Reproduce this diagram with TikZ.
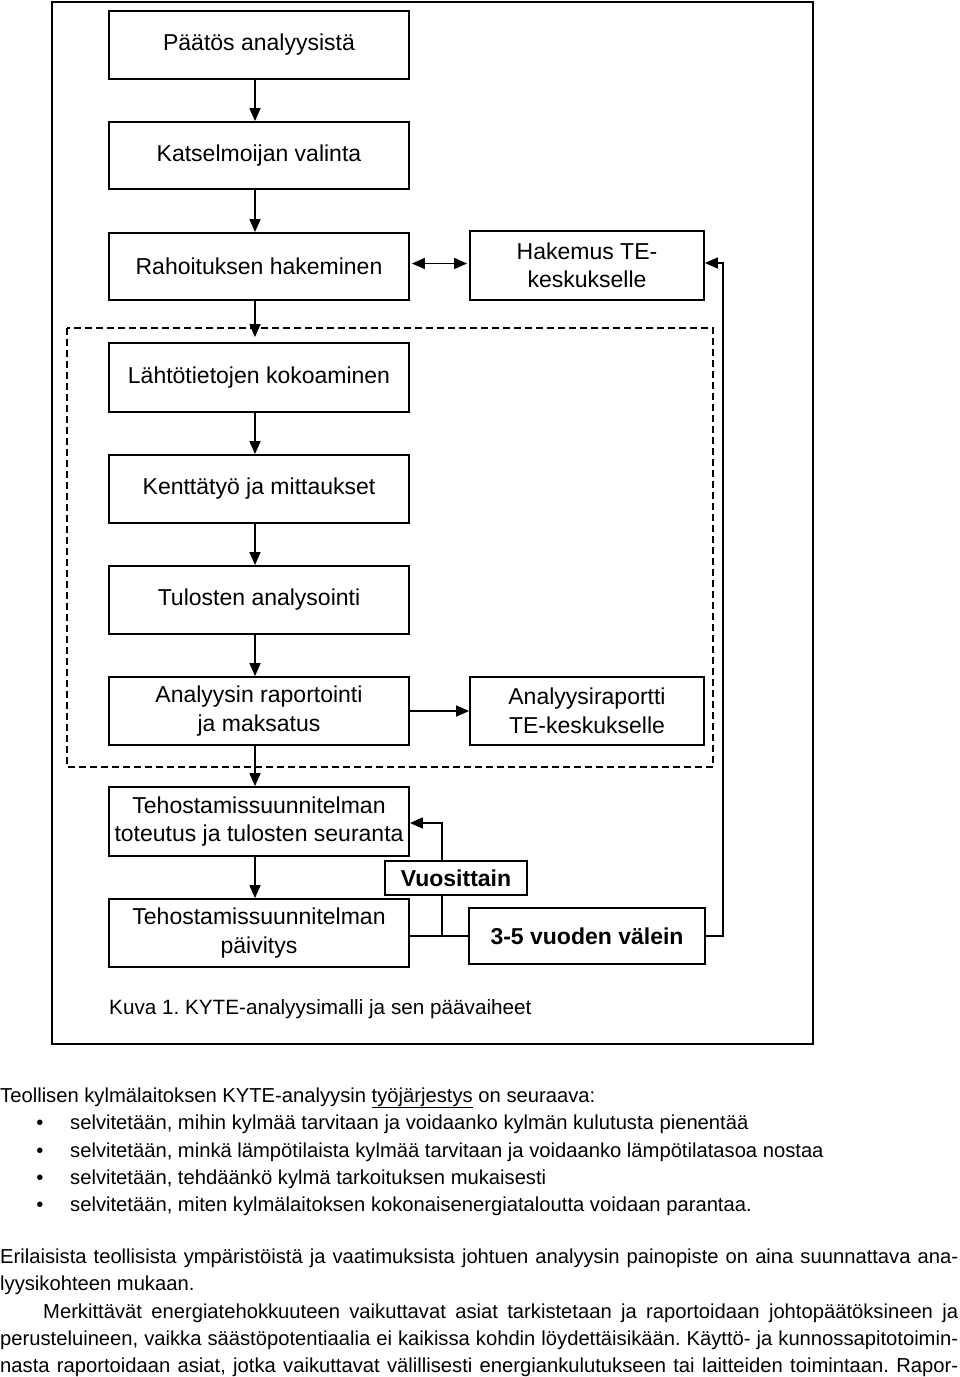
\documentclass[tikz,border=0pt]{standalone}
\usepackage{fontspec}
\setmainfont{Liberation Sans}
\usetikzlibrary{arrows.meta}
\newcommand\bxfont{\fontsize{23}{28.5}\selectfont}
\newcommand\txfont{\fontsize{20.2}{27}\selectfont}
\frenchspacing
\begin{document}
\begin{tikzpicture}[x=1pt,y=-1pt,
  box/.style={draw, line width=1.8pt, minimum width=300pt, minimum height=68pt, inner sep=0pt, align=center, font=\bxfont},
  conn/.style={line width=1.5pt},
  arr/.style={conn, -{Triangle[length=13pt,width=11pt]}},
  darr/.style={conn, {Triangle[length=13pt,width=11pt]}-{Triangle[length=13pt,width=11pt]}},
  txt/.style={anchor=base west, inner sep=0pt, font=\txfont},
  bul/.style={anchor=base, inner sep=0pt, font=\txfont}]
\useasboundingbox[fill=white] (0,0) rectangle (960,1377);
% outer frame and dashed group
\draw[line width=1.5pt] (52,2) rectangle (813,1044);
\draw[line width=1.8pt, dash pattern=on 7pt off 4pt] (67,328) rectangle (713,767);
% boxes
\node[box] (b1) at (259,45) {Päätös analyysistä};
\node[box, minimum height=67pt] (b2) at (259,155.5) {Katselmoijan valinta};
\node[box, minimum height=67pt] (b3) at (259,266.5) {Rahoituksen hakeminen};
\node[box, minimum width=234pt, minimum height=69pt] (hak) at (587,265.5) {Hakemus TE-\\keskukselle};
\node[box, minimum height=69pt] (b4) at (259,377.5) {Lähtötietojen kokoaminen};
\node[box] (b5) at (259,489) {Kenttätyö ja mittaukset};
\node[box] (b6) at (259,600) {Tulosten analysointi};
\node[box] (b7) at (259,711) {Analyysin raportointi\\ja maksatus};
\node[box, minimum width=234pt] (rap) at (587,711) {Analyysiraportti\\TE-keskukselle};
\node[box, minimum height=69pt] (b8) at (259,821.5) {Tehostamissuunnitelman\\toteutus ja tulosten seuranta};
\node[box] (b9) at (259,933) {Tehostamissuunnitelman\\päivitys};
\node[box, minimum width=142pt, minimum height=34pt, font=\bxfont\bfseries] (vuo) at (456,878) {Vuosittain};
\node[box, minimum width=236pt, minimum height=56pt, font=\bxfont\bfseries] (v35) at (587,936) {3-5 vuoden välein};
% vertical flow arrows
\foreach \a/\b in {b1/b2, b2/b3, b4/b5, b5/b6, b6/b7, b7/b8, b8/b9}
  \draw[arr] ([xshift=-4pt]\a.south) -- ([xshift=-4pt]\b.north);
\draw[arr, shorten >=5pt] ([xshift=-4pt]b3.south) -- ([xshift=-4pt]b4.north);
% horizontal arrows
\draw[darr, shorten <=2pt, shorten >=2pt] ([yshift=3pt]b3.east) -- ([yshift=3pt]b3.east -| hak.west);
\draw[arr] (b7.east) -- (rap.west);
% return connectors
\coordinate (rt) at (723,263);
\draw[arr] (v35.east) -| (rt) -- (rt -| hak.east);
\coordinate (j) at (442,936);
\coordinate (k) at (442,823);
\draw[conn] (j -| b9.east) -- (j -| v35.west);
\draw[conn] (j) -- (vuo.south -| j);
\draw[arr] (vuo.north -| j) -- (k) -- (k -| b8.east);
% caption
\node[anchor=base west, inner sep=0pt, font=\fontsize{20.7}{24}\selectfont] (cap) at (109,1014.5) {Kuva 1. KYTE-analyysimalli ja sen päävaiheet};
% body text
\node[txt] (t1) at (0,1102) {Teollisen kylmälaitoksen KYTE-analyysin \underline{työjärjestys} on seuraava:};
\node[bul] (u1) at (40,1129.5) {•};
\node[txt] (l1) at (70,1129.5) {selvitetään, mihin kylmää tarvitaan ja voidaanko kylmän kulutusta pienentää};
\node[bul] (u2) at (40,1157) {•};
\node[txt] (l2) at (70,1157) {selvitetään, minkä lämpötilaista kylmää tarvitaan ja voidaanko lämpötilatasoa nostaa};
\node[bul] (u3) at (40,1184) {•};
\node[txt] (l3) at (70,1184) {selvitetään, tehdäänkö kylmä tarkoituksen mukaisesti};
\node[bul] (u4) at (40,1211.5) {•};
\node[txt] (l4) at (70,1211.5) {selvitetään, miten kylmälaitoksen kokonaisenergiataloutta voidaan parantaa.};
\node[txt] (p1) at (0,1263.5) {\makebox[958pt][s]{Erilaisista teollisista ympäristöistä ja vaatimuksista johtuen analyysin painopiste on aina suunnattava ana-}};
\node[txt] (p2) at (0,1290.5) {lyysikohteen mukaan.};
\node[txt] (p3) at (43,1318) {\makebox[915pt][s]{Merkittävät energiatehokkuuteen vaikuttavat asiat tarkistetaan ja raportoidaan johtopäätöksineen ja}};
\node[txt] (p4) at (0,1345) {\makebox[958pt][s]{perusteluineen, vaikka säästöpotentiaalia ei kaikissa kohdin löydettäisikään. Käyttö- ja kunnossapitotoimin-}};
\node[txt] (p5) at (0,1372) {\makebox[958pt][s]{nasta raportoidaan asiat, jotka vaikuttavat välillisesti energiankulutukseen tai laitteiden toimintaan. Rapor-}};
\end{tikzpicture}
\end{document}
